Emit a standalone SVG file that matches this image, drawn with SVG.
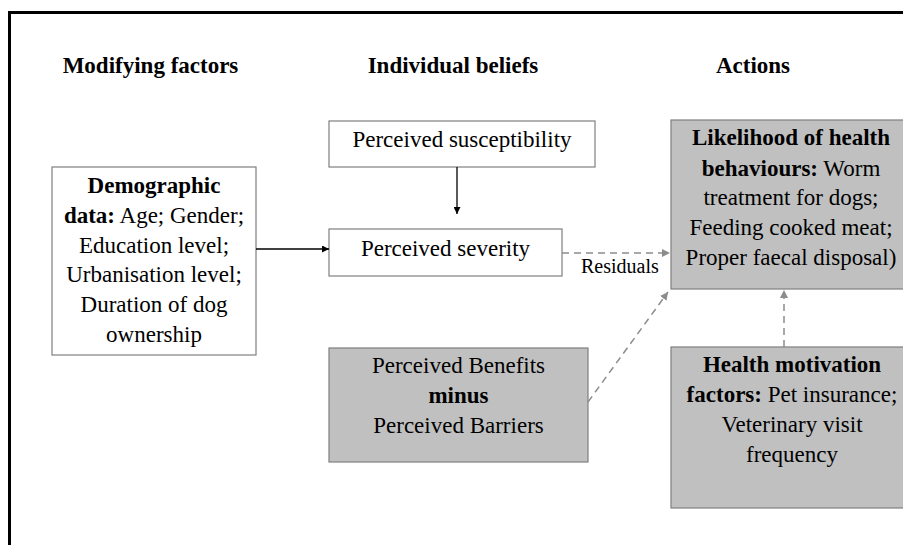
<svg xmlns="http://www.w3.org/2000/svg" width="903" height="545" viewBox="0 0 903 545">
<style>
text{font-family:"Liberation Serif","Times New Roman",serif;fill:#000;}
.h{font-size:23px;font-weight:bold;text-anchor:middle;}
.t{font-size:23px;text-anchor:middle;}
.b{font-weight:bold;}
.box{fill:#fff;stroke:#7f7f7f;stroke-width:1.2;}
.gbox{fill:#c0c0c0;stroke:#7f7f7f;stroke-width:1.2;}
.solid{stroke:#000;stroke-width:1.3;fill:none;}
.dash{stroke:#8c8c8c;stroke-width:1.5;fill:none;stroke-dasharray:7,5;}
</style>
<defs>
<marker id="ab" viewBox="0 0 10 10" refX="10" refY="5" markerWidth="7" markerHeight="7" markerUnits="userSpaceOnUse" orient="auto"><path d="M0,0 L10,5 L0,10 z" fill="#000"/></marker>
<marker id="ag" viewBox="0 0 10 10" refX="10" refY="5" markerWidth="8" markerHeight="8" markerUnits="userSpaceOnUse" orient="auto"><path d="M0,0 L10,5 L0,10 z" fill="#8c8c8c"/></marker>
</defs>
<rect x="0" y="0" width="903" height="545" fill="#fff"/>
<rect x="9.5" y="12.5" width="1000" height="1000" fill="none" stroke="#000" stroke-width="3"/>
<g id="headers">
<text class="h" x="150.5" y="73">Modifying factors</text>
<text class="h" x="453" y="73">Individual beliefs</text>
<text class="h" x="753" y="73">Actions</text>
</g>
<g id="demographic">
<rect class="box" x="52" y="167" width="204" height="188"/>
<text class="t" x="154" y="193"><tspan class="b">Demographic</tspan></text>
<text class="t" x="154" y="223"><tspan class="b">data:</tspan> Age; Gender;</text>
<text class="t" x="154" y="253">Education level;</text>
<text class="t" x="154" y="282">Urbanisation level;</text>
<text class="t" x="154" y="312">Duration of dog</text>
<text class="t" x="154" y="342">ownership</text>
</g>
<g id="susceptibility">
<rect class="box" x="329" y="121" width="266" height="46"/>
<text class="t" x="462" y="147">Perceived susceptibility</text>
</g>
<g id="severity">
<rect class="box" x="329" y="229" width="233" height="47"/>
<text class="t" x="445.5" y="256">Perceived severity</text>
</g>
<g id="benefits">
<rect class="gbox" x="329" y="348" width="259" height="114"/>
<text class="t" x="458.5" y="373">Perceived Benefits</text>
<text class="t b" x="458.5" y="403">minus</text>
<text class="t" x="458.5" y="433">Perceived Barriers</text>
</g>
<g id="likelihood">
<rect class="gbox" x="671" y="120" width="240" height="169"/>
<text class="t" x="791" y="145"><tspan class="b">Likelihood of health</tspan></text>
<text class="t" x="791" y="176"><tspan class="b">behaviours:</tspan> Worm</text>
<text class="t" x="791" y="205">treatment for dogs;</text>
<text class="t" x="791" y="235">Feeding cooked meat;</text>
<text class="t" x="791" y="265">Proper faecal disposal)</text>
</g>
<g id="motivation">
<rect class="gbox" x="671" y="347" width="240" height="161"/>
<text class="t" x="792" y="372"><tspan class="b">Health motivation</tspan></text>
<text class="t" x="792" y="402"><tspan class="b">factors:</tspan> Pet insurance;</text>
<text class="t" x="792" y="432">Veterinary visit</text>
<text class="t" x="792" y="462">frequency</text>
</g>
<g id="connectors">
<line class="solid" x1="256" y1="249" x2="329" y2="249" marker-end="url(#ab)"/>
<line class="solid" x1="457" y1="167" x2="457" y2="214" marker-end="url(#ab)"/>
<line class="dash" x1="562" y1="253" x2="670" y2="253" marker-end="url(#ag)"/>
<text x="581" y="273" style="font-size:20px">Residuals</text>
<line class="dash" x1="588" y1="402" x2="668" y2="292" marker-end="url(#ag)"/>
<line class="dash" x1="784" y1="347" x2="784" y2="290" marker-end="url(#ag)"/>
</g>
</svg>
